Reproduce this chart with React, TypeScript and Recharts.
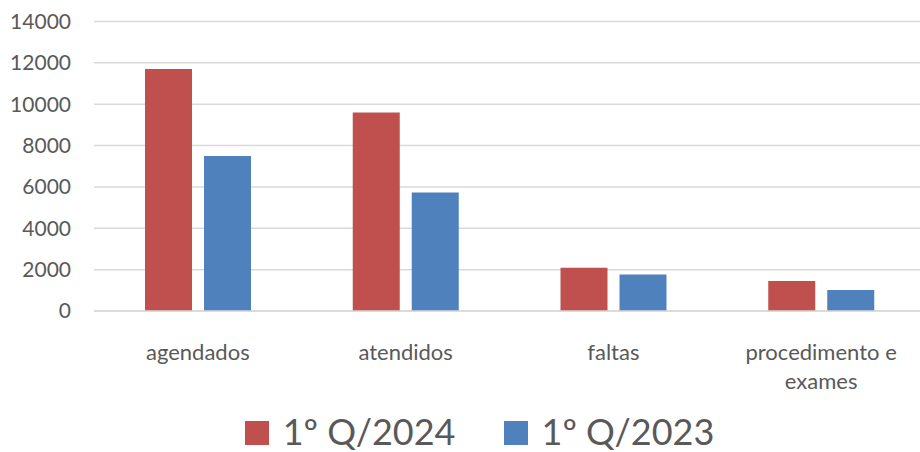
import React from "react";
import { BarChart, Bar, XAxis, YAxis, CartesianGrid, Legend } from "recharts";

const categories = ["agendados", "atendidos", "faltas", "procedimento e exames"];
const q2024 = [11700, 9600, 2090, 1450];
const q2023 = [7490, 5730, 1760, 1010];
const yTicks = [0, 2000, 4000, 6000, 8000, 10000, 12000, 14000];
const seriesNames = ["1º Q/2024", "1º Q/2023"];
const colors = ["#C0504D", "#4F81BD"];

const data = categories.map((c, i) => ({ name: c, a: q2024[i], b: q2023[i] }));

const FONT = "Lato, 'Open Sans', sans-serif";
const TEXT = "#595959";

function wrap(label: string, max: number): string[] {
  const words = label.split(" ");
  const lines: string[] = [];
  let cur = "";
  for (const w of words) {
    const next = cur ? cur + " " + w : w;
    if (next.length > max && cur) {
      lines.push(cur);
      cur = w;
    } else cur = next;
  }
  if (cur) lines.push(cur);
  return lines;
}

const XTick = (props: any) => {
  const { x, y, payload } = props;
  const lines = wrap(String(payload.value), 15);
  return (
    <text x={x} y={y} textAnchor="middle" fill={TEXT} fontSize={22} fontFamily={FONT}>
      {lines.map((l, i) => (
        <tspan key={i} x={x} dy={i === 0 ? 41 : 28.5}>
          {l}
        </tspan>
      ))}
    </text>
  );
};

const LegendContent = () => (
  <div
    style={{
      height: 56,
      display: "flex",
      justifyContent: "center",
      alignItems: "center",
      paddingTop: 13,
      paddingLeft: 34,
      boxSizing: "border-box",
      fontFamily: FONT,
      fontSize: 36,
      color: TEXT,
    }}
  >
    {seriesNames.map((n, i) => (
      <div
        key={n}
        style={{ display: "flex", alignItems: "center", marginLeft: i === 0 ? 0 : 48, lineHeight: "38px" }}
      >
        <span style={{ width: 24, height: 24, background: colors[i], display: "inline-block", marginRight: 14, marginTop: 4 }} />
        <span>{n}</span>
      </div>
    ))}
  </div>
);

export default function App() {
  return (
    <div style={{ position: "absolute", left: 0, top: 0, width: 920, height: 452, overflow: "hidden", background: "#fff" }}>
      <BarChart
        width={925}
        height={452}
        data={data}
        margin={{ top: 21.5, right: 0, left: 0, bottom: 0 }}
        barGap={12}
        barSize={47}
      >
        <CartesianGrid vertical={false} stroke="#D9D9D9" strokeWidth={1.5} />
        <XAxis
          dataKey="name"
          height={85}
          tickLine={false}
          axisLine={{ stroke: "#D9D9D9", strokeWidth: 1.5 }}
          tick={<XTick />}
          interval={0}
        />
        <YAxis
          width={94}
          domain={[0, 14000]}
          ticks={yTicks}
          tickLine={false}
          axisLine={false}
          tickSize={0}
          tickMargin={23}
          tick={{ fill: TEXT, fontSize: 21, fontFamily: FONT }}
        />
        <Legend verticalAlign="bottom" content={<LegendContent />} />
        <Bar dataKey="a" name={seriesNames[0]} fill={colors[0]} isAnimationActive={false} />
        <Bar dataKey="b" name={seriesNames[1]} fill={colors[1]} isAnimationActive={false} />
      </BarChart>
    </div>
  );
}
